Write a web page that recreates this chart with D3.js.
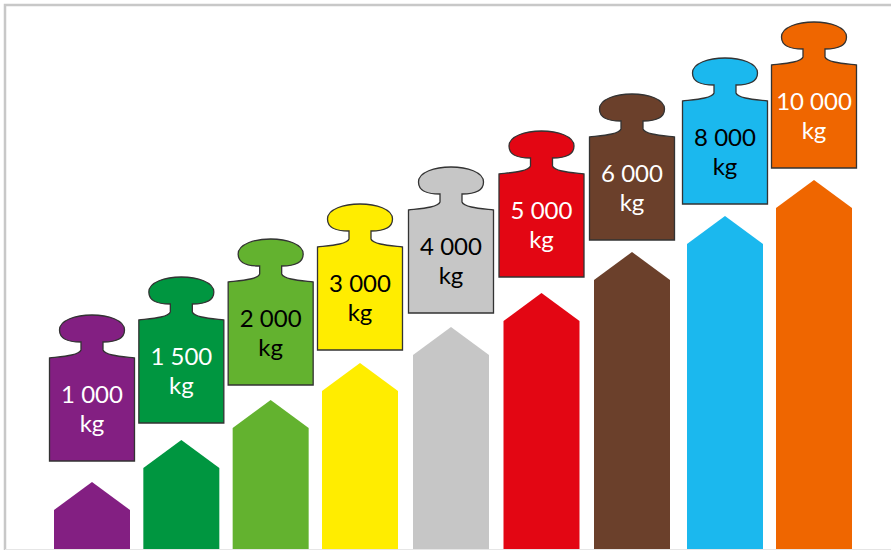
<!DOCTYPE html>
<html>
<head>
<meta charset="utf-8">
<script src="https://cdn.jsdelivr.net/npm/d3@7"></script>
<style>
html, body { margin: 0; padding: 0; background: #fff; }
svg { display: block; }
text { font-family: Lato, "Open Sans", sans-serif; }
</style>
</head>
<body>
<div id="chart"></div>
<script>
// weights, top to bottom of each label
const weights = ['1 000', '1 500', '2 000', '3 000', '4 000', '5 000', '6 000', '8 000', '10 000'];
const unit = 'kg';
// height of the arrows and of the floating weights
const arrowLevels = [67, 109, 149, 186, 222, 256, 297, 333, 369];
const weightLevels = [88, 126, 164, 199, 236, 272, 309, 345, 381];
const colors = ['#831f82', '#009640', '#63b22f', '#ffed00', '#c6c6c6', '#e30613', '#6b402b', '#1bb8ee', '#ef6600'];
const textColors = ['#fff', '#fff', '#000', '#000', '#000', '#fff', '#fff', '#000', '#fff'];

const width = 891, height = 550, baseY = 549;

const svg = d3.select('#chart').append('svg')
    .attr('width', width)
    .attr('height', height);

// frame
svg.append('path')
    .attr('d', 'M5,' + height + 'V5H' + width)
    .attr('fill', 'none')
    .attr('stroke', '#c8c8c8')
    .attr('stroke-width', 2.5);
svg.append('line')
    .attr('x1', 5).attr('x2', width)
    .attr('y1', 549.5).attr('y2', 549.5)
    .attr('stroke', '#e6e6e6');

// scales, the columns are not spaced quite evenly
const xScale = d3.scaleLinear().domain([0, 3, 4, 6, 7, 8]).range([92, 360, 451, 632, 725, 814]);
const yScale = d3.scaleLinear().domain([0, 369]).range([baseY, 180]);

const arrowW = 38, arrowHead = 28;

// arrows
svg.selectAll('.arrow').data(weights).join('path')
    .attr('class', 'arrow')
    .attr('fill', (d, i) => colors[i])
    .attr('d', (d, i) => {
        const x = xScale(i), top = yScale(arrowLevels[i]);
        return 'M' + (x - arrowW) + ',' + baseY
            + 'V' + (top + arrowHead)
            + 'L' + x + ',' + top
            + 'L' + (x + arrowW) + ',' + (top + arrowHead)
            + 'V' + baseY + 'Z';
    });

// weight outline, origin at bottom middle
const weightShape = 'M-42.5,0 V-103 C-30,-104.5 -13,-105.5 -11,-111 V-119'
    + ' C-22,-119 -32.5,-121 -32.5,-131 C-32.5,-141 -16,-146 0,-146'
    + ' C16,-146 32.5,-141 32.5,-131 C32.5,-121 22,-119 11,-119'
    + ' V-111 C13,-105.5 30,-104.5 42.5,-103 V0 Z';

const wg = svg.selectAll('.weight').data(weights).join('g')
    .attr('class', 'weight')
    .attr('transform', (d, i) => 'translate(' + xScale(i) + ',' + yScale(weightLevels[i]) + ')');

wg.append('path')
    .attr('d', weightShape)
    .attr('fill', (d, i) => colors[i])
    .attr('stroke', '#333')
    .attr('stroke-width', 1.3);

// both lines in one text element
const label = wg.append('text')
    .attr('text-anchor', 'middle')
    .attr('font-size', 24)
    .attr('fill', (d, i) => textColors[i]);
label.append('tspan').attr('x', 0).attr('y', -58).text(d => d);
label.append('tspan').attr('x', 0).attr('y', -29).text(unit);
</script>
</body>
</html>
